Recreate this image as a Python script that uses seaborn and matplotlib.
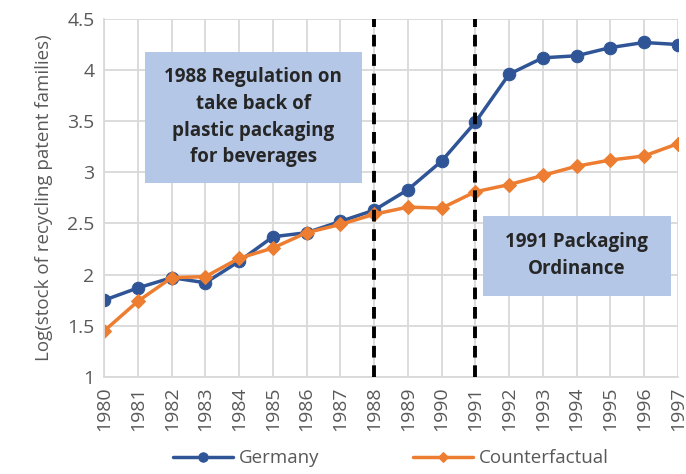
import numpy as np
import pandas as pd
import seaborn as sns
import matplotlib.pyplot as plt
from matplotlib.patches import Rectangle

sns.set_style("whitegrid")
plt.rcParams['font.family'] = ['Open Sans', 'DejaVu Sans']

# данные
years = list(range(1980, 1998))
germany = [1.75, 1.87, 1.97, 1.92, 2.13, 2.37, 2.41, 2.52, 2.63, 2.83,
           3.11, 3.49, 3.96, 4.12, 4.14, 4.22, 4.27, 4.25]
counterfactual = [1.45, 1.74, 1.97, 1.98, 2.16, 2.26, 2.41, 2.49, 2.59, 2.66,
                  2.65, 2.81, 2.88, 2.97, 3.06, 3.12, 3.16, 3.28]
event_years = [1988, 1991]

df = pd.DataFrame({'year': years, 'Germany': germany, 'Counterfactual': counterfactual})

blue = '#2F5597'
orange = '#ED7D31'
grey = '#595959'

fig = plt.figure(figsize=(6.86, 4.74), dpi=100)
ax = fig.add_axes([0.152, 0.205, 0.836, 0.755])

sns.lineplot(data=df, x='year', y='Germany', ax=ax, color=blue, linewidth=2.5,
             marker='o', markersize=9, markeredgecolor=blue, label='Germany')
sns.lineplot(data=df, x='year', y='Counterfactual', ax=ax, color=orange, linewidth=2.5,
             marker='D', markersize=7, markeredgecolor=orange, label='Counterfactual')

for yr in event_years:
    ax.axvline(yr, color='black', linestyle=(0, (3, 2)), linewidth=2.8, zorder=3)

ax.set_xlim(1980, 1997)
ax.set_ylim(1, 4.5)
ax.set_xticks(years)
ax.set_xticklabels([str(y) for y in years], rotation=90)
ax.set_yticks([1, 1.5, 2, 2.5, 3, 3.5, 4, 4.5])
ax.set_yticklabels(['1', '1.5', '2', '2.5', '3', '3.5', '4', '4.5'])
ax.tick_params(axis='both', colors=grey, labelsize=14, length=0, pad=7)
ax.grid(True, color='#D9D9D9', linewidth=1.3)
ax.set_xlabel('')
ax.set_ylabel('Log(stock of recycling patent families)', color=grey, fontsize=13.5, labelpad=10)
for side in ['top', 'right']:
    ax.spines[side].set_visible(False)
for side in ['left', 'bottom']:
    ax.spines[side].set_color('#D9D9D9')
    ax.spines[side].set_linewidth(1.3)

# аннотации
box = '#B4C7E7'
ax.add_patch(Rectangle((0.071, 0.542), 0.378, 0.366, transform=ax.transAxes,
                       facecolor=box, edgecolor='none', zorder=4))
ax.text(0.26, 0.725, '1988 Regulation on\ntake back of\nplastic packaging\nfor beverages',
        transform=ax.transAxes, ha='center', va='center', fontsize=13.5,
        fontweight='bold', linespacing=1.45, zorder=5)
ax.add_patch(Rectangle((0.660, 0.226), 0.328, 0.224, transform=ax.transAxes,
                       facecolor=box, edgecolor='none', zorder=4))
ax.text(0.824, 0.338, '1991 Packaging\nOrdinance',
        transform=ax.transAxes, ha='center', va='center', fontsize=13.5,
        fontweight='bold', linespacing=1.45, zorder=5)

ax.get_legend().remove()
handles, labels = ax.get_legend_handles_labels()
leg = fig.legend(handles, labels, loc='center', bbox_to_anchor=(0.57, 0.033), ncol=2,
                 frameon=False, fontsize=13.5, handlelength=3.2, columnspacing=5,
                 handletextpad=0.3, markerscale=0.75)
for t in leg.get_texts():
    t.set_color(grey)

fig.savefig('out.png', dpi=100)
